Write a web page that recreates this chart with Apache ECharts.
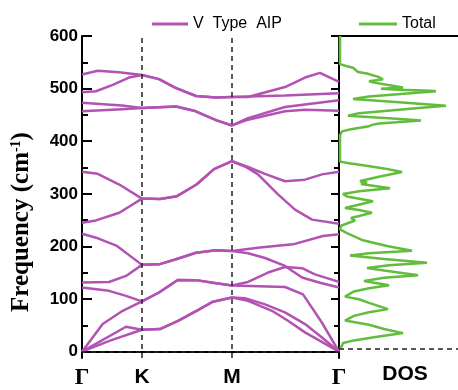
<!DOCTYPE html>
<html><head><meta charset="utf-8">
<script src="https://cdn.jsdelivr.net/npm/echarts@6/dist/echarts.min.js"></script>
<style>html,body{margin:0;padding:0;background:#fff}#c{width:458px;height:390px}</style>
</head><body><div id="c"></div>
<script>
// ---- data ----
const kTicks = [0, 0.6, 1.5, 2.57];
const kLabels = ['Γ', 'K', 'M', 'Γ'];
const freqTicks = [0, 100, 200, 300, 400, 500, 600];
const freqMinorTicks = [50, 150, 250, 350, 450, 550];
const bandName = 'V  Type  AIP';
const dosName = 'Total';

const band1 = [[0,527],[0.157,534],[0.37,531],[0.6,526],[0.77,518],[0.93,502],[1.14,486],[1.34,483],[1.5,484],[1.66,484],[2.03,503],[2.23,521],[2.38,530],[2.57,513]];
const band2 = [[0,493],[0.14,495],[0.307,507],[0.47,521],[0.6,526],[0.77,518],[0.93,502],[1.14,486],[1.34,483],[1.5,484],[2.03,487],[2.57,491]];
const band3 = [[0,473],[0.4,468],[0.6,463],[0.94,466],[1.12,458],[1.34,440],[1.5,430],[1.66,444],[2.03,465],[2.57,478]];
const band4 = [[0,457],[0.4,461],[0.6,463],[0.94,466],[1.12,458],[1.34,440],[1.5,430],[1.66,441],[2.03,457],[2.23,460],[2.57,458]];
const band5 = [[0,342],[0.157,338],[0.373,317.7],[0.6,291],[0.78,290],[0.95,295.6],[1.145,317.7],[1.32,347],[1.5,362],[1.66,351],[1.83,338],[2.03,324],[2.23,327],[2.4,337],[2.57,342]];
const band6 = [[0,245],[0.14,249.5],[0.373,264],[0.6,291],[0.78,290],[0.95,295.6],[1.145,317.7],[1.32,347],[1.5,362],[1.63,352],[1.76,337],[1.96,299],[2.13,270],[2.3,251],[2.57,243]];
const band7 = [[0,224],[0.14,216.7],[0.35,201],[0.6,165],[0.77,166],[0.94,175.6],[1.14,188],[1.34,192.7],[1.5,191.4],[1.78,198],[2.11,204],[2.41,220],[2.57,223]];
const band8 = [[0,131.5],[0.27,132.5],[0.44,144],[0.6,165],[0.77,166],[0.94,175.6],[1.14,188],[1.34,192.7],[1.5,191.4],[1.66,187],[1.83,178],[2.03,163],[2.2,141],[2.38,131],[2.57,122]];
const band9 = [[0,122],[0.27,115.6],[0.44,106],[0.6,95.5],[0.77,112.5],[0.957,136.4],[1.14,136],[1.31,131],[1.5,126],[1.66,132.6],[1.86,150.4],[2.03,161],[2.2,158.6],[2.33,147],[2.57,132.6]];
const band10 = [[0,0],[0.207,52.5],[0.407,77.7],[0.6,95.5],[0.77,112.5],[0.957,136.4],[1.14,136],[1.31,131],[1.5,126],[2.03,123],[2.21,109],[2.4,55],[2.57,0]];
const band11 = [[0,0],[0.44,47.4],[0.6,41.7],[0.78,43],[0.96,58.7],[1.15,78],[1.31,95],[1.5,103],[1.63,101.7],[1.83,90],[2.03,74.6],[2.23,52.5],[2.4,27],[2.57,0]];
const band12 = [[0,0],[0.28,21],[0.6,41.7],[0.78,43],[0.96,58.7],[1.15,78],[1.31,95],[1.5,103],[1.66,96.7],[1.9,77.7],[2.06,58.7],[2.23,36.7],[2.57,0]];

const dosFreq  = [600,546,542,539,531,528,521,517,513,511,505,501,499,497,495,494,484,479,473,466,462,452,447,442,438,432,430,427,421,417,410,359,356,352,346,339,330,322,319,316,308,302,297,292,283,270,266,261,251,246,236,229,222,208,197,188,183,179,172,165,160,155,150,141,136,130,122,116,110,100,95,88,76,70,63,54,46,38,30,22,16,11,6,0];
const dosValue = [1,1,8,14,19,28,40,44,30,34,52,64,42,60,92,97,30,14,60,107,80,20,9,50,82,40,34,30,12,3,1,1,10,24,45,63,40,21,28,22,51,20,4,8,34,6,20,33,12,16,2,1,8,24,48,73,30,11,45,88,50,28,45,79,45,25,50,30,15,6,20,30,49,30,15,6,30,45,64,35,15,4,3,1];

// ---- chart ----
const purple = '#b253b4';
const green = '#62bd3c';
const bands = [band1,band2,band3,band4,band5,band6,band7,band8,band9,band10,band11,band12];
const chart = echarts.init(document.getElementById('c'));
const dash = {color:'#222', type:[5,4], width:1.5};

const bandSeries = bands.map((b, i) => ({
  type:'line', name:bandName, xAxisIndex:0, yAxisIndex:0, data:b,
  symbol:'none', color:purple, lineStyle:{color:purple, width:2.5},
  silent:true, animation:false, z:3,
  markLine: i === 0 ? {silent:true, symbol:['none','none'], label:{show:false}, lineStyle:dash, animation:false,
    data:[{xAxis:kTicks[1]},{xAxis:kTicks[2]},{yAxis:0}]} : undefined
}));

const axisBlack = {lineStyle:{color:'#000', width:2}};

chart.setOption({
  animation:false,
  backgroundColor:'#fff',
  legend:[
    {data:[bandName], left:147, top:11, icon:'rect', itemWidth:36, itemHeight:3, itemGap:4,
     textStyle:{fontSize:16, color:'#000', fontFamily:'Liberation Sans'}},
    {data:[dosName], left:354, top:11, icon:'rect', itemWidth:38, itemHeight:3,
     textStyle:{fontSize:16, color:'#000', fontFamily:'Liberation Sans'}}
  ],
  grid:[
    {left:82, right:119, top:36, bottom:31},
    {left:339, right:0, top:36, bottom:31}
  ],
  xAxis:[
    {gridIndex:0, type:'value', min:0, max:2.57, position:'bottom', axisLine:axisBlack,
     axisTick:{show:false}, splitLine:{show:false},
     axisLabel:{customValues:kTicks, margin:9,
       formatter:(v)=>{const i = kTicks.indexOf(v); const t = i>=0?kLabels[i]:''; return t==='Γ'?'{g|'+t+'}':'{s|'+t+'}';},
       rich:{g:{fontFamily:'Liberation Serif', fontWeight:'bold', fontSize:23, color:'#000'},
             s:{fontFamily:'Liberation Sans', fontWeight:'bold', fontSize:21, color:'#000'}}}},
    {gridIndex:0, type:'value', min:0, max:2.57, position:'top', axisLine:axisBlack,
     axisTick:{show:false}, axisLabel:{show:false}, splitLine:{show:false}},
    {gridIndex:1, type:'value', min:0, max:119, position:'bottom', axisLine:{show:false},
     axisTick:{show:false}, axisLabel:{show:false}, splitLine:{show:false},
     name:'DOS', nameLocation:'middle', nameGap:9,
     nameTextStyle:{fontFamily:'Liberation Sans', fontWeight:'bold', fontSize:21, color:'#000', padding:[0,0,0,13]}},
    {gridIndex:1, type:'value', min:0, max:119, position:'top', axisLine:axisBlack,
     axisTick:{show:false}, axisLabel:{show:false}, splitLine:{show:false}}
  ],
  yAxis:[
    {gridIndex:0, type:'value', min:-12, max:600, position:'left', axisLine:axisBlack,
     axisTick:{inside:true, length:10, customValues:freqTicks, lineStyle:{color:'#000', width:2}},
     axisLabel:{customValues:freqTicks, margin:4, fontFamily:'Liberation Sans', fontWeight:'bold', fontSize:17, color:'#000'},
     splitLine:{show:false}},
    {gridIndex:0, type:'value', min:-12, max:600, position:'left', axisLine:{show:false},
     axisTick:{inside:true, length:6, customValues:freqMinorTicks, lineStyle:{color:'#000', width:2}},
     axisLabel:{show:false}, splitLine:{show:false}},
    {gridIndex:0, type:'value', min:-12, max:600, position:'right', axisLine:axisBlack,
     axisTick:{inside:true, length:8, customValues:freqTicks, lineStyle:{color:'#000', width:2}},
     axisLabel:{show:false}, splitLine:{show:false}},
    {gridIndex:0, type:'value', min:-12, max:600, position:'right', axisLine:{show:false},
     axisTick:{inside:true, length:5, customValues:freqMinorTicks, lineStyle:{color:'#000', width:2}},
     axisLabel:{show:false}, splitLine:{show:false}},
    {gridIndex:1, type:'value', min:-12, max:600, position:'left', axisLine:{show:false},
     axisTick:{show:false}, axisLabel:{show:false}, splitLine:{show:false}}
  ],
  graphic:[{
    type:'text', x:22, y:222, rotation:Math.PI/2,
    style:{text:'{a|Frequency (cm}{s|-1}{a|)}', align:'center', verticalAlign:'middle',
      rich:{a:{fontFamily:'Liberation Serif', fontWeight:'bold', fontSize:25, fill:'#000', color:'#000'},
            s:{fontFamily:'Liberation Serif', fontWeight:'bold', fontSize:14, fill:'#000', color:'#000', verticalAlign:'top', padding:[0,0,10,0]}}}
  }],
  series: bandSeries.concat([{
    type:'line', name:dosName, xAxisIndex:2, yAxisIndex:4,
    data: dosValue.map((v,i)=>[v, dosFreq[i]]),
    symbol:'none', color:green, lineStyle:{color:green, width:2.5}, silent:true, z:4,
    markLine:{silent:true, symbol:['none','none'], label:{show:false}, lineStyle:dash, data:[{yAxis:0}]}
  }])
});
</script></body></html>
